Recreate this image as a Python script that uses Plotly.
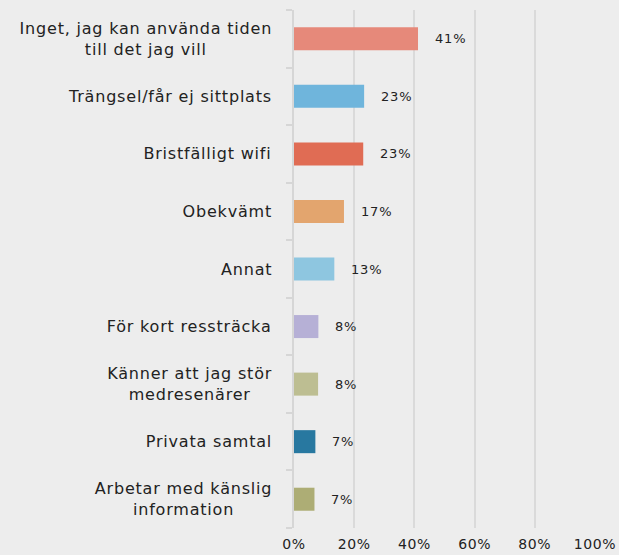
import plotly.graph_objects as go

# survey answers, top to bottom
categories = [
    "Inget, jag kan använda tiden<br>till det jag vill",
    "Trängsel/får ej sittplats",
    "Bristfälligt wifi",
    "Obekvämt",
    "Annat",
    "För kort ressträcka",
    "Känner att jag stör<br>medresenärer",
    "Privata samtal",
    "Arbetar med känslig<br>information",
]
shares = [0.412, 0.233, 0.230, 0.166, 0.134, 0.081, 0.080, 0.071, 0.068]
bar_colors = ["#E6897A", "#6FB5DC", "#E06C54", "#E3A56E", "#8EC6E0",
              "#B6B0D6", "#BDBE92", "#2878A0", "#ADAD75"]
x_ticks = [0, 0.2, 0.4, 0.6, 0.8, 1.0]

FONT = "DejaVu Sans"
TEXT_COLOR = "#222222"

fig = go.Figure(
    go.Bar(
        x=shares,
        y=list(range(len(categories))),
        orientation="h",
        width=0.4,
        marker=dict(color=bar_colors, line=dict(width=0)),
        hoverinfo="skip",
    )
)

annotations = []
# category labels (centered multi-line, right aligned block)
for i, label in enumerate(categories):
    annotations.append(dict(
        text=label, x=0, xref="paper", y=i, yref="y",
        xanchor="right", yanchor="middle", align="center", xshift=-20,
        showarrow=False, font=dict(family=FONT, size=16, color=TEXT_COLOR),
    ))
# value labels
for i, v in enumerate(shares):
    annotations.append(dict(
        text=f"{round(v * 100)}%", x=v, xref="x", y=i, yref="y",
        xanchor="left", yanchor="middle", xshift=15,
        showarrow=False, font=dict(family=FONT, size=13, color=TEXT_COLOR),
    ))

fig.update_layout(
    width=619,
    height=555,
    margin=dict(l=294, r=24, t=10, b=27, autoexpand=False),
    paper_bgcolor="#ededed",
    plot_bgcolor="#ededed",
    showlegend=False,
    annotations=annotations,
    xaxis=dict(
        range=[0, 1],
        tickvals=x_ticks,
        tickformat=".0%",
        showgrid=True,
        gridcolor="#dadada",
        gridwidth=1.5,
        zeroline=False,
        ticks="",
        ticklabelstandoff=6,
        automargin=False,
        tickfont=dict(family=FONT, size=14, color=TEXT_COLOR),
    ),
    yaxis=dict(
        type="linear",
        range=[len(categories) - 0.5, -0.5],
        tickvals=[i - 0.5 for i in range(len(categories) + 1)],
        showticklabels=False,
        ticks="outside",
        ticklen=6,
        tickcolor="#d6d6d6",
        tickwidth=1.5,
        showgrid=False,
        zeroline=False,
        showline=True,
        linecolor="#d6d6d6",
        linewidth=1.5,
        automargin=False,
    ),
)

# no page margin, and the wider letter spacing of the original labels;
# category labels keep their right edge, value labels their left edge
n_cat = len(categories)
post = """
document.body.style.margin = '0';
document.body.style.overflow = 'hidden';
document.body.style.background = '#ededed';
document.querySelectorAll('g.annotation').forEach(function (g) {
    var idx = parseInt(g.getAttribute('data-index'));
    var t = g.querySelector('.annotation-text');
    if (!t) return;
    var b0 = t.getBBox();
    t.style.letterSpacing = '0.8px';
    var b1 = t.getBBox();
    var dx = idx < %d ? (b0.x + b0.width) - (b1.x + b1.width) : b0.x - b1.x;
    t.setAttribute('transform', 'translate(' + dx + ',0)');
});
document.querySelectorAll('.xtick text').forEach(function (t) {
    t.style.letterSpacing = '0.6px';
});
""" % n_cat

fig.write_html("out.html", post_script=post, config={"displayModeBar": False})
